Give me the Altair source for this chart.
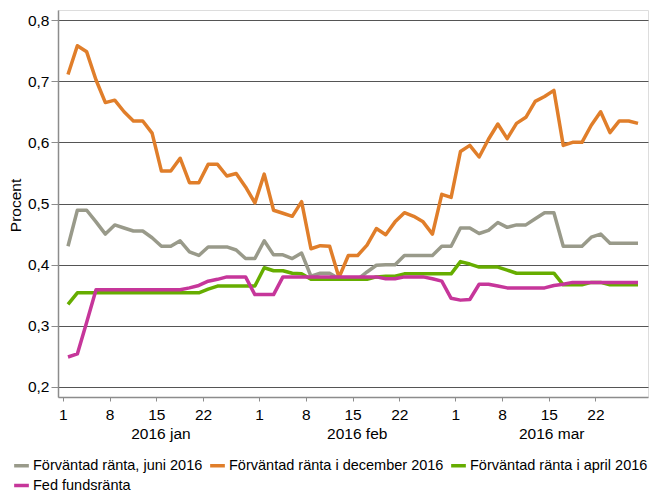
import altair as alt
import pandas as pd

FONT = "Liberation Sans"

series_names = [
    "Förväntad ränta, juni 2016",
    "Förväntad ränta i december 2016",
    "Förväntad ränta i april 2016",
    "Fed fundsränta",
]
colors = ["#999a8a", "#e07e2a", "#66ad00", "#c6369a"]

# business days Jan 1 .. Mar 28 2016 (62 points)
juni = [0.430, 0.489, 0.489, 0.470, 0.450, 0.465, 0.460, 0.455, 0.455, 0.444,
        0.430, 0.430, 0.439, 0.421, 0.415, 0.429, 0.429, 0.429, 0.424, 0.410,
        0.410, 0.439, 0.416, 0.416, 0.410, 0.419, 0.381, 0.386, 0.386, 0.377,
        0.376, 0.376, 0.388, 0.399, 0.400, 0.400, 0.415, 0.415, 0.415, 0.415,
        0.430, 0.430, 0.460, 0.460, 0.451, 0.456, 0.469, 0.461, 0.465, 0.465,
        0.475, 0.485, 0.485, 0.430, 0.430, 0.430, 0.445, 0.450, 0.435, 0.435,
        0.435, 0.435]
december = [0.711, 0.758, 0.748, 0.702, 0.665, 0.669, 0.650, 0.635, 0.635, 0.615,
            0.553, 0.553, 0.574, 0.534, 0.534, 0.564, 0.564, 0.545, 0.549, 0.527,
            0.501, 0.548, 0.489, 0.484, 0.479, 0.503, 0.426, 0.431, 0.430, 0.379,
            0.415, 0.415, 0.432, 0.459, 0.449, 0.470, 0.485, 0.479, 0.470, 0.450,
            0.515, 0.510, 0.585, 0.595, 0.576, 0.605, 0.630, 0.606, 0.631, 0.641,
            0.667, 0.675, 0.685, 0.595, 0.600, 0.600, 0.628, 0.650, 0.616, 0.635,
            0.635, 0.631]
april = [0.335, 0.354, 0.354, 0.354, 0.354, 0.354, 0.354, 0.354, 0.354, 0.354,
         0.354, 0.354, 0.354, 0.354, 0.354, 0.360, 0.365, 0.365, 0.365, 0.365,
         0.365, 0.395, 0.390, 0.390, 0.386, 0.385, 0.376, 0.376, 0.376, 0.376,
         0.376, 0.376, 0.376, 0.380, 0.381, 0.381, 0.385, 0.385, 0.385, 0.385,
         0.385, 0.385, 0.405, 0.401, 0.396, 0.396, 0.396, 0.391, 0.386, 0.386,
         0.386, 0.386, 0.386, 0.367, 0.367, 0.367, 0.371, 0.371, 0.367, 0.367,
         0.367, 0.367]
fed = [0.249, 0.254, 0.306, 0.359, 0.359, 0.359, 0.359, 0.359, 0.359, 0.359,
       0.359, 0.359, 0.359, 0.362, 0.366, 0.373, 0.376, 0.380, 0.380, 0.380,
       0.351, 0.351, 0.351, 0.380, 0.380, 0.380, 0.380, 0.380, 0.380, 0.380,
       0.380, 0.380, 0.380, 0.380, 0.377, 0.377, 0.380, 0.380, 0.380, 0.377,
       0.373, 0.345, 0.342, 0.343, 0.368, 0.368, 0.365, 0.362, 0.362, 0.362,
       0.362, 0.362, 0.366, 0.368, 0.371, 0.371, 0.371, 0.371, 0.371, 0.371,
       0.371, 0.371]

# business-day index of each labelled date
tick_idx = [0, 5, 10, 15, 21, 26, 31, 36, 42, 47, 52, 57]
tick_labels = ["1", "8", "15", "22", "1", "8", "15", "22", "1", "8", "15", "22"]
months = ["2016 jan", "2016 feb", "2016 mar"]
month_start_idx = [0, 21, 42]

y_ticks = [0.2, 0.3, 0.4, 0.5, 0.6, 0.7, 0.8]

n = len(juni)
TICK_SHIFT = 0.55
x_dom = [-1.07, n - 1 + 1.07]
tick_pos = [k - TICK_SHIFT for k in tick_idx]
bounds = [k - TICK_SHIFT for k in month_start_idx] + [x_dom[1]]
month_centers = [(bounds[i] + bounds[i + 1]) / 2 for i in range(len(months))]

rows = []
for name, vals in zip(series_names, [juni, december, april, fed]):
    for i, v in enumerate(vals):
        rows.append({"idx": i, "value": v, "series": name})
df = pd.DataFrame(rows)
mdf = pd.DataFrame({"idx": month_centers, "label": months})

label_expr = (
    "[" + ",".join("'%s'" % t for t in tick_labels) + "]"
    + "[indexof([" + ",".join(str(k) for k in tick_idx) + "], round(datum.value + %s))]" % TICK_SHIFT
)

x_scale = alt.Scale(domain=x_dom, nice=False, zero=False)
x_enc = alt.X(
    "idx:Q",
    scale=x_scale,
    axis=alt.Axis(
        values=tick_pos, labelExpr=label_expr, grid=False, title=None,
        tickSize=4, labelPadding=6, labelFontSize=15.5, labelColor="#000",
        domainColor="#8c8c8c", domainWidth=1.5, tickColor="#8c8c8c",
        labelFont=FONT, labelFlush=False,
    ),
)

lines = alt.Chart(df).mark_line(strokeWidth=3.5, strokeJoin="round").encode(
    x=x_enc,
    y=alt.Y(
        "value:Q",
        scale=alt.Scale(domain=[0.1836, 0.8164], nice=False, zero=False),
        axis=alt.Axis(
            values=y_ticks,
            labelExpr="replace(format(datum.value, '.1f'), '.', ',')",
            title="Procent", titleFontSize=15.5, titleFontWeight="normal",
            titleFont=FONT, titleColor="#000",
            titleX=-43, titleY=195, titleAngle=270, titleAlign="center", titleBaseline="middle",
            grid=True, gridColor="#555555", gridWidth=1.2,
            tickSize=7, labelPadding=2, labelFontSize=15.5, labelColor="#000",
            labelFont=FONT, domainColor="#8c8c8c", domainWidth=1.5, tickColor="#8c8c8c",
        ),
    ),
    color=alt.Color(
        "series:N",
        scale=alt.Scale(domain=series_names, range=colors),
        legend=alt.Legend(
            orient="none", legendX=-46, legendY=446, direction="horizontal",
            columns=3, symbolType="stroke", symbolSize=216, symbolStrokeWidth=3.5,
            labelFontSize=14.5, labelFont=FONT, labelColor="#000", labelOffset=2,
            columnPadding=0, rowPadding=3, title=None, labelLimit=0, padding=0,
        ),
    ),
)

mtext = alt.Chart(mdf).mark_text(
    baseline="middle", align="center", fontSize=15.5, font=FONT, color="#000"
).encode(x=x_enc, y=alt.value(424), text="label:N")

chart = alt.layer(lines, mtext).properties(
    width=590, height=387,
    autosize=alt.AutoSizeParams(type="none"),
    padding={"left": 50, "top": 2, "right": 2, "bottom": 94},
).configure_view(stroke="#a6a6a6", strokeWidth=1.5).configure(font=FONT)

chart.save("out.html", embed_options={"renderer": "svg", "actions": False})
